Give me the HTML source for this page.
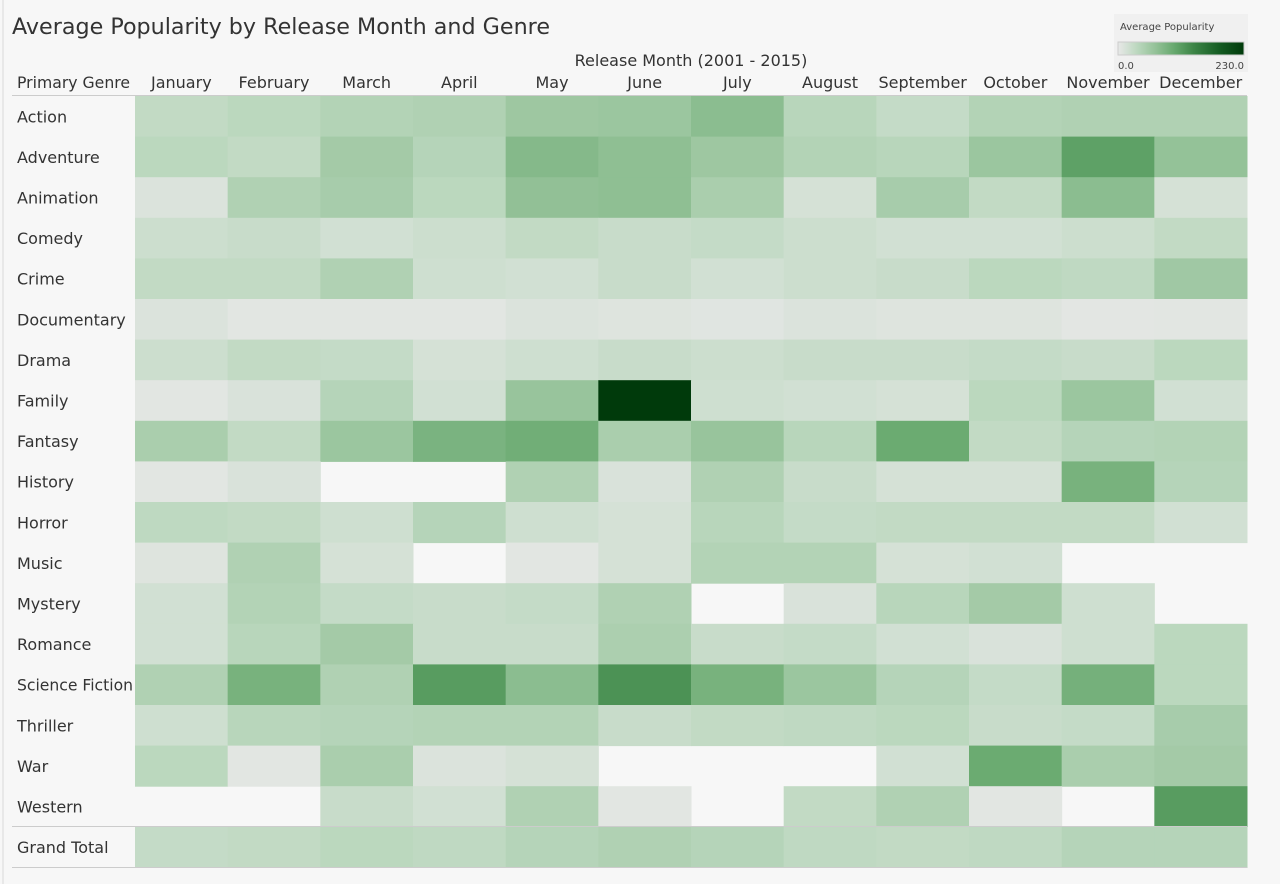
<!DOCTYPE html>
<html><head><meta charset="utf-8"><style>
html,body{margin:0;padding:0;background:#f7f7f7;}
body{width:1280px;height:884px;overflow:hidden;font-family:"DejaVu Sans","Liberation Sans",sans-serif;}
</style></head><body>
<svg id="chart" width="1280" height="884" xmlns="http://www.w3.org/2000/svg" style="position:absolute;left:0;top:0">
<rect x="0" y="0" width="1280" height="884" fill="#f7f7f7"/>
<line x1="3" y1="0" x2="3" y2="884" stroke="#d8d8d8"/>
<text x="12" y="34" font-size="22" fill="#333" textLength="538" lengthAdjust="spacingAndGlyphs">Average Popularity by Release Month and Genre</text>
<text x="691" y="66" font-size="16" fill="#333" text-anchor="middle">Release Month (2001 - 2015)</text>
<text x="17" y="88" font-size="16" fill="#333" textLength="113" lengthAdjust="spacingAndGlyphs">Primary Genre</text>
<g id="legend">
<rect x="1114" y="14" width="134" height="58" fill="#f0f0f0"/>
<text x="1120" y="30" font-size="10" fill="#444">Average Popularity</text>
<defs><linearGradient id="lg"><stop offset="0" stop-color="#e8e8e8"/><stop offset="0.15" stop-color="#bcd8bf"/><stop offset="0.3" stop-color="#93c197"/><stop offset="0.45" stop-color="#66a86d"/><stop offset="0.6" stop-color="#3d8547"/><stop offset="0.8" stop-color="#155d23"/><stop offset="1" stop-color="#003a0b"/></linearGradient></defs>
<rect x="1118" y="42" width="126" height="13" fill="url(#lg)" stroke="#ccc"/>
<text x="1118" y="69" font-size="10" fill="#444">0.0</text>
<text x="1244" y="69" font-size="10" fill="#444" text-anchor="end">230.0</text>
</g>
<g id="cells"></g>
<g id="labels"></g>
<line x1="12" y1="95.5" x2="1247" y2="95.5" stroke="#ccc"/>
<line x1="12" y1="826.5" x2="1247" y2="826.5" stroke="#ccc"/>
<line x1="12" y1="867.5" x2="1247" y2="867.5" stroke="#ccc"/>
</svg>
<script>
const months = ["January","February","March","April","May","June","July","August","September","October","November","December"];
const genres = ["Action","Adventure","Animation","Comedy","Crime","Documentary","Drama","Family","Fantasy","History","Horror","Music","Mystery","Romance","Science Fiction","Thriller","War","Western","Grand Total"];
const vAction = [30,35,42,45,60,62,75,38,28,42,45,45];
const vAdventure = [35,30,55,40,80,72,60,42,38,62,110,68];
const vAnimation = [10,45,52,35,70,72,50,15,52,30,75,15];
const vComedy = [22,25,18,22,30,25,28,22,18,18,22,30];
const vCrime = [30,30,45,20,18,25,18,22,25,35,32,58];
const vDocumentary = [10,5,5,5,10,8,6,10,8,8,4,5];
const vDrama = [22,30,28,15,20,25,22,25,25,28,25,35];
const vFamily = [5,12,40,18,65,230,20,18,15,35,62,18];
const vFantasy = [50,30,62,88,95,50,65,38,100,30,40,42];
const vHistory = [5,12,null,null,45,12,45,25,15,15,90,40];
const vHorror = [33,30,20,40,20,15,38,28,30,30,30,18];
const vMusic = [8,45,15,null,5,15,42,42,15,18,null,null];
const vMystery = [18,42,28,25,28,45,null,12,38,55,20,null];
const vRomance = [18,38,55,25,25,48,25,28,18,12,20,35];
const vSciFi = [45,90,45,115,75,125,90,62,40,28,92,35];
const vThriller = [20,38,40,42,42,25,30,32,35,25,28,52];
const vWar = [35,5,50,10,15,null,null,null,18,100,50,55];
const vWestern = [null,null,25,18,45,5,null,30,45,5,null,115];
const vGrandTotal = [28,30,35,32,40,45,40,32,30,32,40,40];
const values = [vAction,vAdventure,vAnimation,vComedy,vCrime,vDocumentary,vDrama,vFamily,vFantasy,vHistory,vHorror,vMusic,vMystery,vRomance,vSciFi,vThriller,vWar,vWestern,vGrandTotal];
const maxVal = 230;

const X0=135, X1=1247, Y0=96, RH=40.6;
const CW=(X1-X0)/months.length;
function xPos(i){return X0+i*CW;}
function yPos(j){return Y0+j*RH;}
const stops=[[0,[232,232,232]],[0.15,[188,216,191]],[0.3,[147,193,151]],[0.45,[102,168,109]],[0.6,[61,133,71]],[0.8,[21,93,35]],[1,[0,58,11]]];
function color(v){
  let t=Math.max(0,Math.min(1,v/maxVal));
  for(let k=1;k<stops.length;k++){
    if(t<=stops[k][0]){
      const a=stops[k-1],b=stops[k],f=(t-a[0])/(b[0]-a[0]);
      const c=a[1].map((x,i)=>Math.round(x+(b[1][i]-x)*f));
      return `rgb(${c[0]},${c[1]},${c[2]})`;
    }
  }
  return 'rgb(0,58,11)';
}
const NS="http://www.w3.org/2000/svg";
const cells=document.getElementById('cells'), labels=document.getElementById('labels');
months.forEach((m,i)=>{
  const t=document.createElementNS(NS,'text');
  t.setAttribute('x',xPos(i)+CW/2);t.setAttribute('y',88);
  t.setAttribute('font-size','16');t.setAttribute('fill','#333');t.setAttribute('text-anchor','middle');
  
  
  t.textContent=m;labels.appendChild(t);
});
genres.forEach((g,j)=>{
  const t=document.createElementNS(NS,'text');
  t.setAttribute('x',17);t.setAttribute('y',yPos(j)+RH/2+6);
  t.setAttribute('font-size','16');t.setAttribute('fill','#333');
  if(g==='Science Fiction'){t.setAttribute('textLength','116');t.setAttribute('lengthAdjust','spacingAndGlyphs');}
  
  
  t.textContent=g;labels.appendChild(t);
  values[j].forEach((v,i)=>{
    if(v===null)return;
    const r=document.createElementNS(NS,'rect');
    r.setAttribute('x',xPos(i));r.setAttribute('y',yPos(j));
    r.setAttribute('width',CW+0.5);r.setAttribute('height',RH+0.5);
    r.setAttribute('fill',color(v));
    
    
    cells.appendChild(r);
  });
});
</script>
</body></html>
